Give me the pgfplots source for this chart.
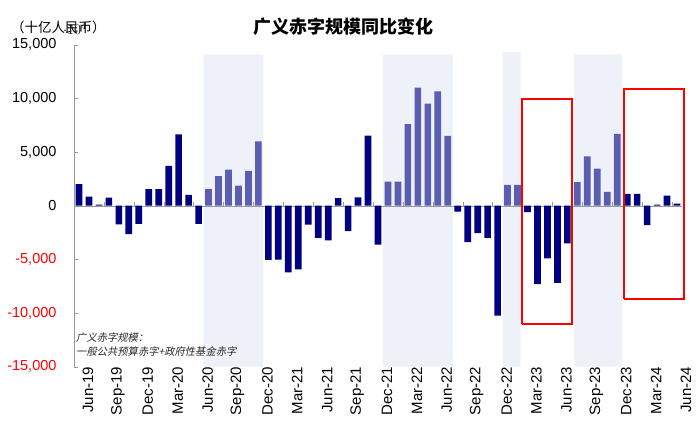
\documentclass[border=0pt]{standalone}
\usepackage{pgfplots}
\pgfplotsset{compat=1.18}
\usepackage{fontspec}
\setmainfont{Liberation Sans}
\newfontfamily\cjk{Noto Sans CJK SC}
\newfontfamily\cjkit{Noto Sans CJK SC}[FakeSlant=0.2]
\definecolor{navybar}{HTML}{000080}
\definecolor{lightbar}{HTML}{5A5DB0}
\definecolor{shade}{HTML}{EEF2F8}
\begin{document}
\begin{tikzpicture}
\begin{axis}[
  scale only axis,
  width=608pt, height=322pt,
  xmin=-0.5, xmax=60.5,
  ymin=-15000, ymax=15000,
  axis y line=left,
  axis x line=bottom,
  x axis line style={draw=none},
  y axis line style={draw=gray!80, -},
  ytick={-15000,-10000,-5000,0,5000,10000,15000},
  yticklabels={{\color{red}-15,000},{\color{red}-10,000},{\color{red}-5,000},0,{5,000},{10,000},{15,000}},
  yticklabel style={font=\fontsize{14.5}{14.5}\selectfont, anchor=east, xshift=-14pt},
  ytick style={draw=gray!80},
  xtick={0,3,...,60},
  xticklabels={Jun-19,Sep-19,Dec-19,Mar-20,Jun-20,Sep-20,Dec-20,Mar-21,Jun-21,Sep-21,Dec-21,Mar-22,Jun-22,Sep-22,Dec-22,Mar-23,Jun-23,Sep-23,Dec-23,Mar-24,Jun-24},
  xticklabel style={rotate=90, anchor=east, inner sep=0pt, font=\fontsize{15}{15}\selectfont, yshift=-9pt},
  xtick style={draw=none},
  major tick length=4pt,
  tick align=inside,
  clip=false,
]
% shaded periods
\addplot[fill=shade, draw=none, forget plot] coordinates {(12.5,-15000) (18.5,-15000) (18.5,14100) (12.5,14100) (12.5,-15000)};
\addplot[fill=shade, draw=none, forget plot] coordinates {(30.5,-15000) (37.5,-15000) (37.5,14100) (30.5,14100) (30.5,-15000)};
\addplot[fill=shade, draw=none, forget plot] coordinates {(42.5,-15000) (44.3,-15000) (44.3,14300) (42.5,14300) (42.5,-15000)};
\addplot[fill=shade, draw=none, forget plot] coordinates {(49.7,-15000) (54.5,-15000) (54.5,14100) (49.7,14100) (49.7,-15000)};
% zero line
\addplot[gray!80, forget plot] coordinates {(-0.5,0) (60.5,0)};
\pgfplotsinvokeforeach{2.5,5.5,8.5,11.5,14.5,17.5,20.5,23.5,26.5,29.5,32.5,35.5,38.5,41.5,44.5,47.5,50.5,53.5,56.5,59.5}{\draw[gray!80] (axis cs:#1,0) -- (axis cs:#1,380);}
% dark bars
\addplot[ybar, bar width=0.67, bar shift=0pt, fill=navybar, draw=none] coordinates {
(0,2000) (1,850) (2,100) (3,750) (4,-1750) (5,-2650) (6,-1700) (7,1550) (8,1550) (9,3700)
(10,6650) (11,1000) (12,-1700)
(19,-5050) (20,-5030) (21,-6200) (22,-5930) (23,-1770) (24,-3000) (25,-3230) (26,710) (27,-2360) (28,780) (29,6520) (30,-3630)
(38,-550) (39,-3400) (40,-2550) (41,-3000) (42,-10250)
(45,-600) (46,-7300) (47,-4900) (48,-7200) (49,-3500)
(55,1100) (56,1100) (57,-1800) (58,100) (59,950) (60,200)
};
% light bars
\addplot[ybar, bar width=0.67, bar shift=0pt, fill=lightbar, draw=none] coordinates {
(13,1560) (14,2750) (15,3350) (16,1875) (17,3250) (18,6000)
(31,2250) (32,2250) (33,7600) (34,11000) (35,9500) (36,10650) (37,6500)
(43,1950) (44,1950)
(50,2200) (51,4600) (52,3450) (53,1300) (54,6700)
};
% red boxes
\addplot[red, line width=2pt, forget plot] coordinates {(44.45,-11000) (49.5,-11000) (49.5,9900) (44.45,9900) (44.45,-11000)};
\addplot[red, line width=2pt, forget plot] coordinates {(54.7,-8700) (60.7,-8700) (60.7,10900) (54.7,10900) (54.7,-8700)};
\end{axis}
\node[anchor=center, font=\cjk\bfseries\fontsize{18}{18}\selectfont] at (269pt,340pt) {广义赤字规模同比变化};
\node[anchor=west, inner sep=0pt, font=\cjk\fontsize{13.5}{13.5}\selectfont] at (-63pt,339pt) {（十亿人民币）};
\node[anchor=west, inner sep=0pt, font=\cjkit\fontsize{10.3}{10.3}\selectfont, text=black!85] at (2pt,28.7pt) {广义赤字规模：};
\node[anchor=west, inner sep=0pt, font=\cjkit\fontsize{10.3}{10.3}\selectfont, text=black!85] at (2pt,15pt) {一般公共预算赤字+政府性基金赤字};
\pgfresetboundingbox
\path[use as bounding box] (-74pt,-70.3pt) rectangle (626pt,366.7pt);
\end{tikzpicture}
\end{document}
